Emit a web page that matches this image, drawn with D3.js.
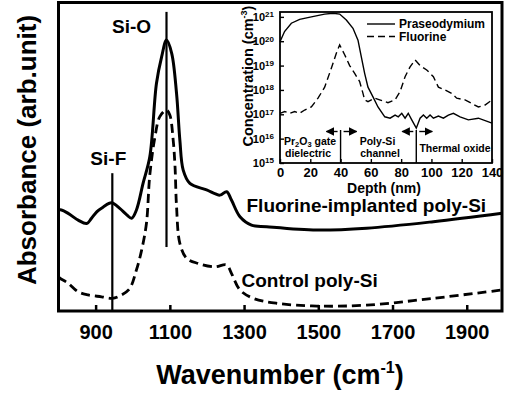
<!DOCTYPE html>
<html>
<head>
<meta charset="utf-8">
<script src="https://cdn.jsdelivr.net/npm/d3@7"></script>
<style>
  html, body { margin: 0; padding: 0; background: #fff; }
  svg { display: block; font-family: Arial, 'Liberation Sans', sans-serif; font-weight: bold; }
</style>
</head>
<body>
<div id="chart"></div>
<script>
// FTIR spectra (absorbance in arbitrary units)
const implantedWn = [800, 808, 826, 853, 876, 889, 903, 920, 943, 965, 984, 997, 1010, 1028, 1046, 1064, 1078, 1091, 1105, 1118, 1127, 1136, 1154, 1199, 1235, 1253, 1266, 1289, 1320, 1361, 1496, 1630, 1810, 1995];
const implantedAbs = [32.7, 32.7, 31.6, 29.4, 28.3, 30.0, 32.1, 33.6, 35.0, 33.2, 31.1, 30.0, 32.7, 41.4, 49.9, 73.7, 82.3, 87.7, 83.4, 70.5, 55.3, 45.6, 41.3, 39.2, 37.5, 38.6, 35.9, 30.5, 27.8, 27.3, 26.2, 26.8, 28.9, 31.6];
const controlWn = [800, 804, 826, 853, 880, 916, 945, 970, 992, 1010, 1024, 1037, 1046, 1060, 1073, 1091, 1100, 1109, 1114, 1118, 1127, 1145, 1176, 1221, 1253, 1266, 1289, 1325, 1388, 1496, 1630, 1810, 1995];
const controlAbs = [11.0, 10.6, 9.0, 6.2, 5.2, 4.6, 4.1, 5.2, 7.3, 13.3, 19.7, 28.4, 44.0, 56.4, 62.9, 65.0, 63.4, 55.3, 46.7, 34.0, 21.9, 17.1, 15.4, 14.3, 14.9, 12.2, 6.8, 4.1, 2.5, 1.6, 1.9, 4.1, 6.8];
const wnTicks = [900, 1100, 1300, 1500, 1700, 1900];

// peak marker lines
const peakNames = ['Si-O', 'Si-F'];
const peakWn = [1091, 945];
const peakTop = [96.8, 44.6];
const peakBottom = [20.7, 0];

// SIMS depth profile inset (cm^-3)
const prDepth = [0, 3, 7.5, 13, 20.7, 29.5, 35, 39.4, 43.8, 48.2, 51.5, 53.7, 55.9, 58.1, 61.4, 64.7, 69.2, 72.7, 76, 78.1, 80.4, 82.6, 84.7, 87, 90, 92.5, 94.7, 96.9, 99.1, 101.3, 104.6, 107.9, 111.2, 114.5, 118.9, 124.4, 131, 140];
const prConc = [9.5e19, 2.5e20, 5.5e20, 7.9e20, 1.0e21, 1.3e21, 1.4e21, 1.3e21, 7.4e20, 3.4e20, 1.1e20, 2.3e19, 4.8e18, 1.3e18, 5.2e17, 2.0e17, 7.9e16, 6.9e16, 9.3e16, 7.9e16, 1.1e17, 6.9e16, 1.1e17, 5.9e16, 2.7e16, 6.9e16, 9.3e16, 6.9e16, 9.3e16, 6.9e16, 8.5e16, 6.9e16, 9.3e16, 1.1e17, 7.9e16, 5.9e16, 6.9e16, 4.3e16];
const fDepth = [0, 3.1, 6.4, 9.7, 13, 16.3, 20.7, 25.1, 29.5, 33.9, 37.2, 39.4, 42.7, 46, 49.3, 52.6, 54.8, 55.9, 58.1, 62.5, 65.8, 71.3, 76, 79.3, 82.6, 85.9, 89.2, 92.5, 96.9, 101.3, 104.6, 109, 113.4, 116.7, 122.2, 126.6, 131, 135.4, 140];
const fConc = [1.1e17, 1.3e17, 1.1e17, 1.3e17, 1.1e17, 1.5e17, 2.0e17, 4.6e17, 1.3e18, 7.8e18, 3.2e19, 7.1e19, 2.8e19, 1.0e19, 4.8e18, 2.2e18, 7.2e17, 3.9e17, 3.3e17, 4.6e17, 3.9e17, 3.0e17, 3.9e17, 8.5e17, 3.5e18, 8.9e18, 1.7e19, 1.0e19, 6.6e18, 3.5e18, 1.3e18, 1.0e18, 7.2e17, 4.6e17, 3.9e17, 2.8e17, 2.0e17, 2.4e17, 3.9e17];
const depthTicks = [0, 20, 40, 60, 80, 100, 120, 140];
const concExponents = [15, 16, 17, 18, 19, 20, 21];
const layerBounds = [40, 90];

const width = 509, height = 394;
const svg = d3.select('#chart').append('svg').attr('width', width).attr('height', height);

// ---- main FTIR plot ----
const x = d3.scaleLinear().domain([800, 1995]).range([58.5, 502]);
const y = d3.scaleLinear().domain([0, 100]).range([311, 2]);

const line = d3.line().x(d => x(d[0])).y(d => y(d[1])).curve(d3.curveCatmullRom.alpha(0.5));

svg.append('path')
  .datum(d3.zip(implantedWn, implantedAbs))
  .attr('d', line)
  .attr('fill', 'none').attr('stroke', '#000').attr('stroke-width', 3)
  .attr('stroke-linejoin', 'round');

svg.append('path')
  .datum(d3.zip(controlWn, controlAbs))
  .attr('d', line)
  .attr('fill', 'none').attr('stroke', '#000').attr('stroke-width', 2.8)
  .attr('stroke-dasharray', '9,5');

peakWn.forEach((wn, i) => {
  svg.append('line')
    .attr('x1', x(wn)).attr('x2', x(wn))
    .attr('y1', y(peakTop[i])).attr('y2', y(peakBottom[i]))
    .attr('stroke', '#000').attr('stroke-width', 2.2);
});
svg.append('text').attr('x', x(peakWn[0]) - 35).attr('y', 33)
  .attr('text-anchor', 'middle').attr('font-size', 19).text(peakNames[0]);
svg.append('text').attr('x', x(peakWn[1]) - 4).attr('y', 165)
  .attr('text-anchor', 'middle').attr('font-size', 19).text(peakNames[1]);

svg.append('text').attr('x', 246.5).attr('y', 211.5).attr('font-size', 19)
  .text('Fluorine-implanted poly-Si');
svg.append('text').attr('x', 241.5).attr('y', 286.5).attr('font-size', 19)
  .text('Control poly-Si');

const xAxis = svg.append('g')
  .attr('transform', `translate(0,311)`)
  .call(d3.axisBottom(x).tickValues(wnTicks).tickFormat(d3.format('d'))
    .tickSizeInner(-6).tickSizeOuter(0).tickPadding(14));
xAxis.select('.domain').remove();
xAxis.selectAll('line').attr('stroke-width', 2.5);
xAxis.selectAll('text').attr('font-size', 20).attr('font-family', null).attr('fill', '#000');

svg.append('rect')
  .attr('x', 58.5).attr('y', 2.5).attr('width', 443.5).attr('height', 308.5)
  .attr('fill', 'none').attr('stroke', '#000').attr('stroke-width', 3);

svg.append('text')
  .attr('transform', 'translate(36,150) rotate(-90)')
  .attr('text-anchor', 'middle').attr('font-size', 26)
  .text('Absorbance (arb.unit)');

const xt = svg.append('text').attr('x', 280).attr('y', 384)
  .attr('text-anchor', 'middle').attr('font-size', 27);
xt.append('tspan').text('Wavenumber (cm');
xt.append('tspan').attr('dy', -11).attr('font-size', 16).text('-1');
xt.append('tspan').attr('dy', 11).text(')');

// ---- inset: depth profile ----
const ix = d3.scaleLinear().domain([0, 140]).range([280, 492]);
const iy = d3.scaleLog().domain([1e15, Math.pow(10, 21.2)]).range([163, 12]);
const iline = d3.line().x(d => ix(d[0])).y(d => iy(d[1]));

const inset = svg.append('g');

inset.append('path')
  .datum(d3.zip(prDepth, prConc))
  .attr('d', iline)
  .attr('fill', 'none').attr('stroke', '#000').attr('stroke-width', 1.4);
inset.append('path')
  .datum(d3.zip(fDepth, fConc))
  .attr('d', iline)
  .attr('fill', 'none').attr('stroke', '#000').attr('stroke-width', 1.4)
  .attr('stroke-dasharray', '7,4');

// layer boundaries with arrows
const arrowY = 131.5;
inset.append('defs').append('marker')
  .attr('id', 'head').attr('viewBox', '0 0 10 10').attr('refX', 9).attr('refY', 5)
  .attr('markerWidth', 6).attr('markerHeight', 6).attr('orient', 'auto-start-reverse')
  .append('path').attr('d', 'M0,0 L10,5 L0,10 Z').attr('fill', '#000');
layerBounds.forEach(b => {
  const bx = ix(b);
  inset.append('line').attr('x1', bx).attr('x2', bx).attr('y1', 130).attr('y2', 163)
    .attr('stroke', '#000').attr('stroke-width', 1.4);
  inset.append('line').attr('x1', bx - 3).attr('x2', bx - 14).attr('y1', arrowY).attr('y2', arrowY)
    .attr('stroke', '#000').attr('stroke-width', 1.4).attr('marker-end', 'url(#head)');
  inset.append('line').attr('x1', bx + 3).attr('x2', bx + 16).attr('y1', arrowY).attr('y2', arrowY)
    .attr('stroke', '#000').attr('stroke-width', 1.4).attr('marker-end', 'url(#head)');
});

const pr = inset.append('text').attr('x', 284).attr('y', 144.5).attr('font-size', 10.5);
pr.append('tspan').text('Pr');
pr.append('tspan').attr('dy', 2).attr('font-size', 7.5).text('2');
pr.append('tspan').attr('dy', -2).text('O');
pr.append('tspan').attr('dy', 2).attr('font-size', 7.5).text('3');
pr.append('tspan').attr('dy', -2).text(' gate');
inset.append('text').attr('x', 285).attr('y', 157).attr('font-size', 10.5).text('dielectric');
inset.append('text').attr('x', 377.5).attr('y', 144.5).attr('font-size', 10.5)
  .attr('text-anchor', 'middle').text('Poly-Si');
inset.append('text').attr('x', 380).attr('y', 157).attr('font-size', 10.5)
  .attr('text-anchor', 'middle').text('channel');
inset.append('text').attr('x', 455).attr('y', 151.5).attr('font-size', 10.5)
  .attr('text-anchor', 'middle').text('Thermal oxide');

// legend
inset.append('line').attr('x1', 367).attr('x2', 395).attr('y1', 24).attr('y2', 24)
  .attr('stroke', '#000').attr('stroke-width', 1.4);
inset.append('line').attr('x1', 367).attr('x2', 395).attr('y1', 36.5).attr('y2', 36.5)
  .attr('stroke', '#000').attr('stroke-width', 1.4).attr('stroke-dasharray', '7,4');
inset.append('text').attr('x', 399).attr('y', 28).attr('font-size', 12).text('Praseodymium');
inset.append('text').attr('x', 399).attr('y', 41).attr('font-size', 12).text('Fluorine');

// inset axes
const ixAxis = inset.append('g').attr('transform', 'translate(0,163)')
  .call(d3.axisBottom(ix).tickValues(depthTicks).tickSizeInner(-4).tickSizeOuter(0).tickPadding(4.5));
ixAxis.select('.domain').remove();
ixAxis.selectAll('line').attr('stroke-width', 1.4);
ixAxis.selectAll('text').attr('font-size', 13).attr('font-family', null).attr('fill', '#000');

const iyAxis = inset.append('g').attr('transform', 'translate(280,0)')
  .call(d3.axisLeft(iy).tickValues(concExponents.map(e => Math.pow(10, e)))
    .tickSizeInner(-4).tickSizeOuter(0).tickPadding(6).tickFormat(() => ''));
iyAxis.select('.domain').remove();
iyAxis.selectAll('line').attr('stroke-width', 1.4);
iyAxis.selectAll('.tick text').each(function (d) {
  const t = d3.select(this).attr('font-size', 11).attr('font-family', null).attr('fill', '#000');
  t.append('tspan').text('10');
  t.append('tspan').attr('dy', '-0.45em').attr('font-size', 8).text(Math.round(Math.log10(d)));
});

inset.append('rect')
  .attr('x', 280).attr('y', 12).attr('width', 212).attr('height', 151)
  .attr('fill', 'none').attr('stroke', '#000').attr('stroke-width', 1.8);

const ct = inset.append('text')
  .attr('transform', 'translate(253,76) rotate(-90)')
  .attr('text-anchor', 'middle').attr('font-size', 14.5);
ct.append('tspan').text('Concentration (cm');
ct.append('tspan').attr('dy', -6).attr('font-size', 9).text('-3');
ct.append('tspan').attr('dy', 6).text(')');

inset.append('text').attr('x', 384).attr('y', 193).attr('text-anchor', 'middle')
  .attr('font-size', 14).text('Depth (nm)');
</script>
</body>
</html>
